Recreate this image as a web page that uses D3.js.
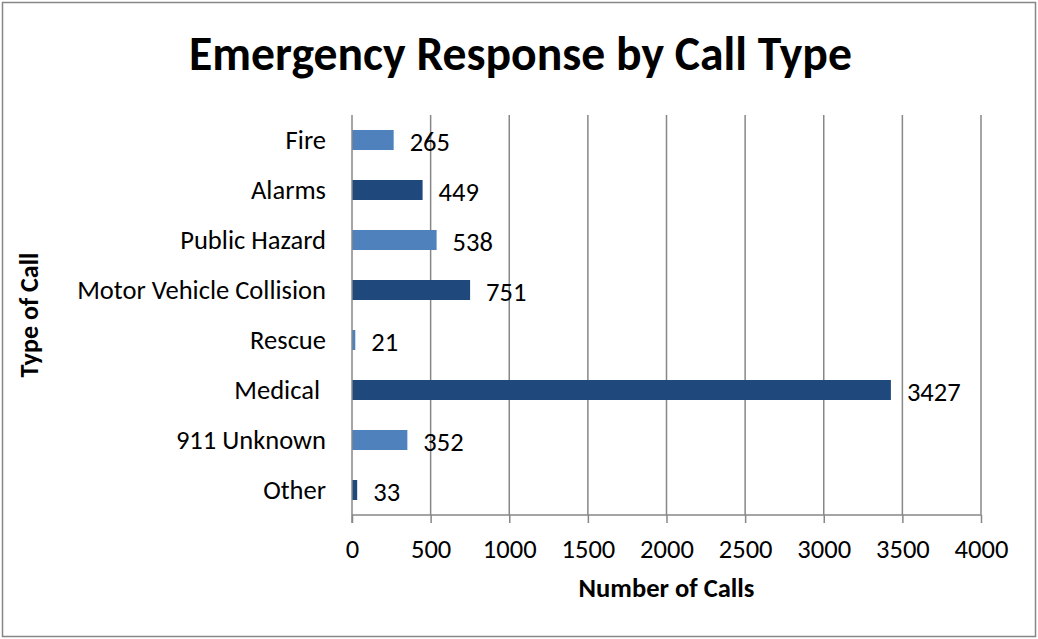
<!DOCTYPE html>
<html><head><meta charset="utf-8">
<script src="https://cdn.jsdelivr.net/npm/d3@7"></script>
<style>body{margin:0;background:#fff}svg{display:block}text{font-family:Carlito,"Open Sans","Noto Sans",sans-serif}</style>
</head><body>
<svg id="c" width="1038" height="639"></svg>
<script>
const categories = ["Fire","Alarms","Public Hazard","Motor Vehicle Collision","Rescue","Medical ","911 Unknown","Other"];
const values = [265,449,538,751,21,3427,352,33];
const xTicks = [0,500,1000,1500,2000,2500,3000,3500,4000];
const title = "Emergency Response by Call Type";
const xTitle = "Number of Calls";
const yTitle = "Type of Call";
const colors = ["#4F81BD","#1F497D"];

const svg = d3.select("#c");
const W=1038,H=639;
const m={l:352,r:981,t:115,b:515};
svg.append("rect").attr("x",2.5).attr("y",2.5).attr("width",W-5).attr("height",H-5)
  .attr("fill","#fff").attr("stroke","#868686").attr("stroke-width",1.5);

const x = d3.scaleLinear().domain([0,4000]).range([m.l,m.r]);
const y = d3.scaleBand().domain(categories).range([m.t,m.b]).paddingInner(0.6).paddingOuter(0.3);

// fit helper
function fit(sel, target){
  const w = sel.node().getComputedTextLength();
  const fs = parseFloat(sel.attr("font-size"));
  sel.attr("font-size", fs*target/w);
  return fs*target/w;
}

// gridlines
const grid = svg.append("g");
grid.selectAll("line").data(xTicks.slice(1)).join("line")
  .attr("x1",d=>x(d)).attr("x2",d=>x(d)).attr("y1",m.t).attr("y2",m.b)
  .attr("stroke","#878787").attr("stroke-width",1.5);

// bars
svg.append("g").selectAll("rect").data(values).join("rect")
  .attr("x",x(0)).attr("y",(d,i)=>y(categories[i]))
  .attr("width",d=>x(d)-x(0)).attr("height",y.bandwidth())
  .attr("fill",(d,i)=>colors[i%2]);

// axes
const xAxis = d3.axisBottom(x).tickValues(xTicks).tickSize(8).tickFormat(d3.format("d"));
const gx = svg.append("g").attr("transform",`translate(0,${m.b})`).call(xAxis);
gx.select(".domain").attr("stroke","#878787").attr("stroke-width",1.5).attr("d",`M${m.l},0H${m.r}`);
gx.selectAll(".tick line").attr("stroke","#878787").attr("stroke-width",1.5);
gx.selectAll(".tick text").attr("fill","#000").attr("font-size",22).attr("dy",0).attr("y",43).attr("font-family",null);

svg.append("line").attr("x1",m.l).attr("x2",m.l).attr("y1",m.t).attr("y2",m.b+8)
  .attr("stroke","#878787").attr("stroke-width",1.5);

const gy = svg.append("g").attr("transform",`translate(${m.l},0)`)
  .call(d3.axisLeft(y).tickSize(0).tickPadding(26));
gy.select(".domain").remove();
gy.selectAll(".tick text").attr("fill","#000").attr("font-size",22).attr("font-family",null).attr("dy","0.34em").attr("xml:space","preserve");

// data labels
const lbl = svg.append("g").selectAll("text").data(values).join("text")
  .attr("x",d=>x(d)+16).attr("y",(d,i)=>y(categories[i])+y.bandwidth()/2+1)
  .attr("dy","0.36em").attr("font-size",22).text(d=>d);

// titles
const t = svg.append("text").attr("x",(189+852)/2).attr("y",70).attr("text-anchor","middle")
  .attr("font-weight","bold").attr("font-size",40).text(title);
fit(t,663);
const xt = svg.append("text").attr("x",(m.l+m.r)/2).attr("y",597).attr("text-anchor","middle")
  .attr("font-weight","bold").attr("font-size",20).text(xTitle);
const yt = svg.append("text").attr("transform",`translate(38,${(m.t+m.b)/2}) rotate(-90)`).attr("text-anchor","middle")
  .attr("font-weight","bold").attr("font-size",20).text(yTitle);

// size fit for axis text based on longest category label width
const mvc = gy.selectAll(".tick text").filter(d=>d==="Motor Vehicle Collision");
const fs = fit(mvc,249);
gy.selectAll(".tick text").attr("font-size",fs);
gx.selectAll(".tick text").attr("font-size",fs);
lbl.attr("font-size",fs);
fit(xt,176);
fit(yt,125);
</script>
</body></html>
